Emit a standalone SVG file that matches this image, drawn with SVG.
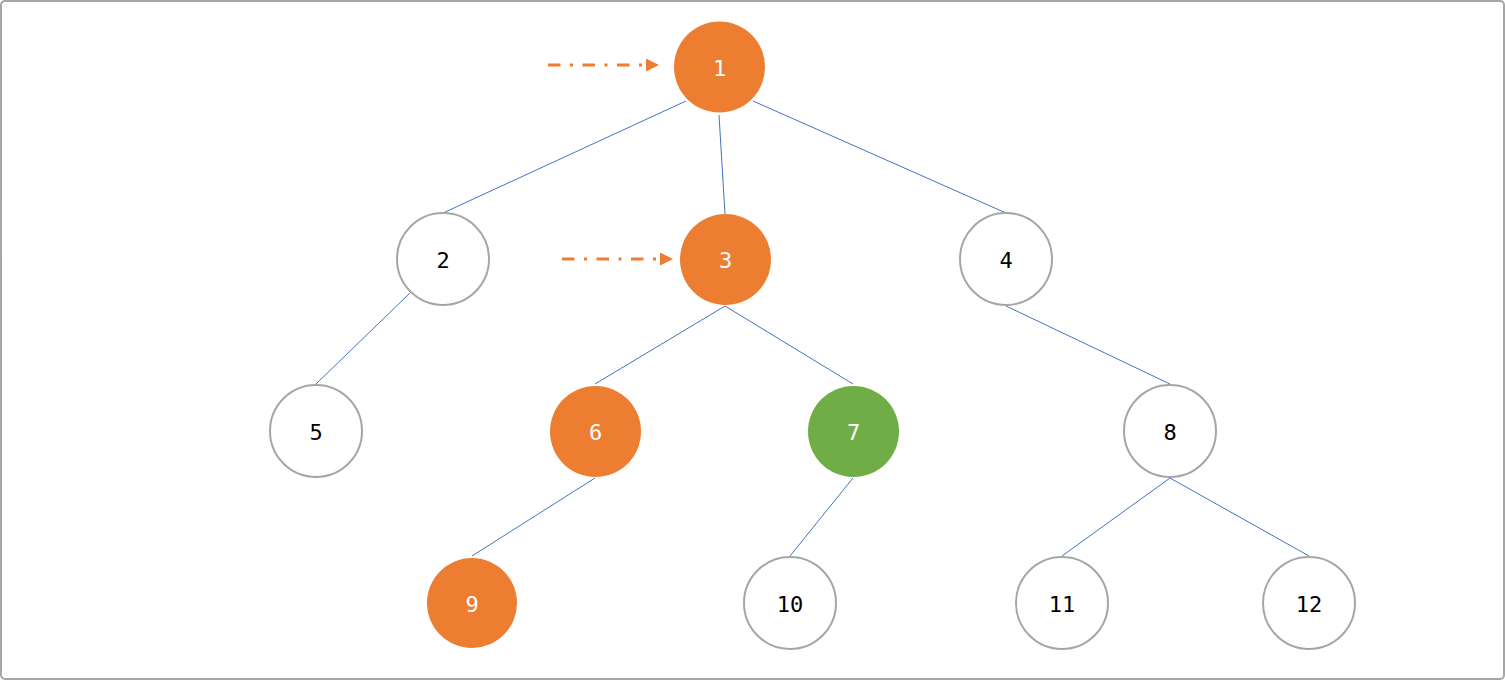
<svg xmlns="http://www.w3.org/2000/svg" width="1505" height="680" viewBox="0 0 1505 680">
<style>
.e{stroke:#4472C4;stroke-width:1;fill:none}
.w{fill:#FFFFFF;stroke:#A6A6A6;stroke-width:2}
.o{fill:#ED7D31}
.g{fill:#70AD47}
.t{font-family:"DejaVu Sans Mono","Liberation Mono",monospace;font-size:22px;text-anchor:middle;dominant-baseline:central}
.tb{fill:#000000}
.tw{fill:#FFFFFF}
.da{stroke:#ED7D31;stroke-width:3;stroke-dasharray:12.5 9.5 3 9.5;fill:none}
</style>
<defs>
<marker id="ah" markerWidth="13" markerHeight="13" refX="0" refY="6.5" orient="auto" markerUnits="userSpaceOnUse">
<path d="M0,0 L13,6.5 L0,13 Z" fill="#ED7D31"/>
</marker>
</defs>
<rect x="1" y="1" width="1503" height="678" rx="4" fill="#FFFFFF" stroke="#A6A6A6" stroke-width="2"/>
<g id="connectors">
<line class="e" x1="686" y1="101" x2="443" y2="213"/>
<line class="e" x1="719" y1="115" x2="725" y2="214"/>
<line class="e" x1="753" y1="101" x2="1006" y2="213"/>
<line class="e" x1="410" y1="293" x2="316" y2="384"/>
<line class="e" x1="725" y1="306" x2="595" y2="384"/>
<line class="e" x1="725" y1="306" x2="853" y2="384"/>
<line class="e" x1="1006" y1="306" x2="1170" y2="384"/>
<line class="e" x1="595" y1="478" x2="472" y2="556"/>
<line class="e" x1="853" y1="478" x2="790" y2="556"/>
<line class="e" x1="1170" y1="478" x2="1062" y2="556"/>
<line class="e" x1="1170" y1="478" x2="1309" y2="556"/>
<line class="da" x1="548" y1="65" x2="646" y2="65" marker-end="url(#ah)"/>
<line class="da" x1="562" y1="259" x2="660" y2="259" marker-end="url(#ah)"/>
</g>
<g id="n1"><circle class="o" cx="719.5" cy="67" r="45.5"/><text class="t tw" x="719.5" y="68">1</text></g>
<g id="n2"><circle class="w" cx="443" cy="259" r="46"/><text class="t tb" x="443" y="260">2</text></g>
<g id="n3"><circle class="o" cx="725.5" cy="259.5" r="45.5"/><text class="t tw" x="725.5" y="260.5">3</text></g>
<g id="n4"><circle class="w" cx="1006" cy="259" r="46"/><text class="t tb" x="1006" y="260">4</text></g>
<g id="n5"><circle class="w" cx="316" cy="431" r="46"/><text class="t tb" x="316" y="432">5</text></g>
<g id="n6"><circle class="o" cx="595.5" cy="431.5" r="45.5"/><text class="t tw" x="595.5" y="432.5">6</text></g>
<g id="n7"><circle class="g" cx="853.5" cy="431.5" r="45.5"/><text class="t tw" x="853.5" y="432.5">7</text></g>
<g id="n8"><circle class="w" cx="1170" cy="431" r="46"/><text class="t tb" x="1170" y="432">8</text></g>
<g id="n9"><circle class="o" cx="472" cy="603" r="45"/><text class="t tw" x="472" y="604">9</text></g>
<g id="n10"><circle class="w" cx="790" cy="603" r="46"/><text class="t tb" x="790" y="604">10</text></g>
<g id="n11"><circle class="w" cx="1062" cy="603" r="46"/><text class="t tb" x="1062" y="604">11</text></g>
<g id="n12"><circle class="w" cx="1309" cy="603" r="46"/><text class="t tb" x="1309" y="604">12</text></g>
</svg>
